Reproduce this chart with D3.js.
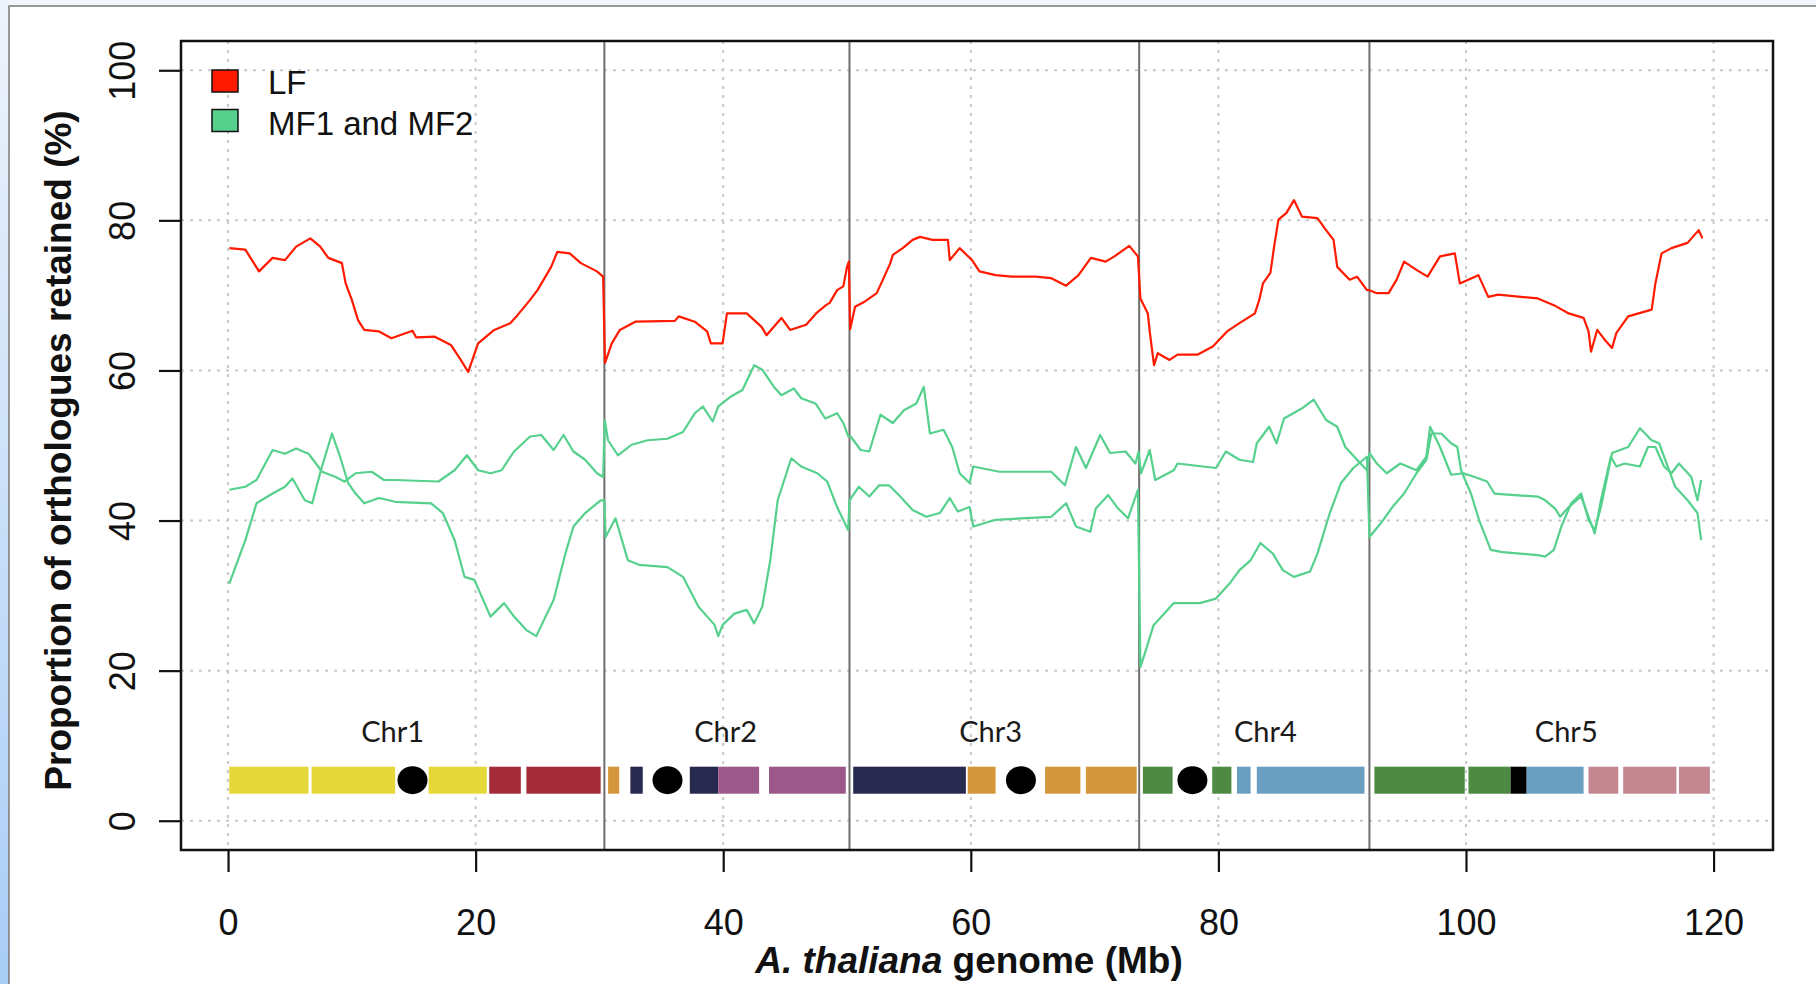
<!DOCTYPE html>
<html>
<head>
<meta charset="utf-8">
<script src="https://cdn.jsdelivr.net/npm/d3@7"></script>
<style>
  html, body { margin: 0; padding: 0; background: #fff; }
  svg { display: block; }
</style>
</head>
<body>
<svg id="chart" width="1816" height="984"></svg>
<script>
// ---- data (Mb along the concatenated A. thaliana genome, % retained) ----
const xTicks = [0, 20, 40, 60, 80, 100, 120];
const yTicks = [0, 20, 40, 60, 80, 100];

const chrBounds = [30.4, 50.2, 73.6, 92.2];
const chrNames = ['Chr1', 'Chr2', 'Chr3', 'Chr4', 'Chr5'];
const chrLabelPos = [13.3, 40.2, 61.6, 83.8, 108.1];

const legendNames = ['LF', 'MF1 and MF2'];

// LF (red)
const lf = [
  [0.1,76.3],[1.4,76.1],[2.5,73.2],[3.6,75.0],[4.6,74.7],[5.5,76.5],[6.65,77.6],[7.45,76.5],[8.1,75.0],[9.2,74.3],
  [9.5,71.6],[10.0,69.4],[10.5,66.7],[11.0,65.4],[12.2,65.2],[13.2,64.3],[14.9,65.3],[15.2,64.4],[16.7,64.5],[18.0,63.4],
  [18.8,61.4],[19.4,59.8],[20.2,63.6],[21.5,65.4],[22.8,66.3],[23.4,67.4],[24.4,69.4],[25.0,70.7],[26.1,73.8],[26.6,75.8],
  [27.6,75.6],[28.5,74.3],[29.8,73.2],[30.3,72.5],
  [30.45,61.0],[31.0,63.6],[31.65,65.4],[32.9,66.5],[36.1,66.6],[36.4,67.2],[37.7,66.5],[38.7,65.2],[39.0,63.6],[39.95,63.6],
  [40.3,67.6],[41.9,67.6],[43.1,65.8],[43.5,64.7],[44.7,67.0],[45.4,65.4],[46.7,66.1],[47.5,67.6],[48.3,68.7],[48.6,69.0],
  [49.2,70.7],[49.7,71.2],[50.0,73.8],[50.15,74.5],
  [50.25,65.5],[50.65,68.5],[51.45,69.2],[52.4,70.3],[52.9,72.1],[53.5,74.3],[53.7,75.4],[54.5,76.3],[55.3,77.4],[55.9,77.8],
  [56.9,77.4],[58.15,77.4],[58.3,74.7],[59.1,76.3],[60.1,74.7],[60.7,73.2],[62.0,72.7],[63.3,72.5],[65.2,72.5],[66.5,72.3],
  [67.7,71.3],[68.7,72.7],[69.7,75.0],[70.9,74.5],[71.6,75.2],[72.8,76.6],[73.5,75.2],
  [73.7,69.6],[74.3,67.6],[74.45,65.2],[74.8,60.7],[75.1,62.3],[76.05,61.4],[76.7,62.1],[78.3,62.1],[79.55,63.2],[80.7,65.2],
  [81.7,66.3],[82.95,67.6],[83.3,69.4],[83.6,71.6],[84.2,73.0],[84.5,76.5],[84.85,80.1],[85.5,81.0],[86.1,82.7],[86.75,80.5],
  [88.0,80.3],[88.7,78.7],[89.3,77.4],[89.6,73.8],[90.6,72.1],[91.2,72.5],[92.0,70.7],
  [92.2,70.7],[92.8,70.3],[93.75,70.3],[94.4,72.1],[95.0,74.5],[96.0,73.4],[96.9,72.5],[97.9,75.2],[99.1,75.6],[99.5,71.6],
  [101.0,72.7],[101.8,69.8],[102.6,70.1],[105.8,69.6],[107.1,68.7],[108.3,67.6],[109.5,67.0],[109.9,65.2],[110.1,62.5],[110.6,65.4],
  [111.2,64.1],[111.8,63.0],[112.15,65.0],[113.1,67.2],[115.0,68.1],[115.3,71.6],[115.8,75.6],[116.6,76.3],[117.9,77.0],[118.8,78.7],
  [119.1,77.6]
];

// MF1 / MF2 (green), two traces
const mfA = [
  [0.1,44.1],[1.4,44.5],[2.3,45.4],[3.6,49.4],[4.6,48.9],[5.5,49.6],[6.5,48.9],[7.1,47.6],[7.6,46.5],[8.7,45.8],
  [9.4,45.2],[10.3,46.3],[11.6,46.5],[12.6,45.4],[13.5,45.4],[17.0,45.2],[18.3,46.7],[19.3,48.7],[20.2,46.7],[21.2,46.3],
  [22.1,46.7],[23.1,49.2],[24.4,51.2],[25.3,51.4],[26.3,49.4],[27.1,51.4],[27.9,49.2],[28.85,48.1],[29.8,46.3],[30.3,45.8],
  [30.43,53.4],[30.69,50.7],[31.49,48.7],[32.6,50.1],[33.9,50.7],[35.5,50.9],[36.75,51.8],[37.7,54.3],[38.35,55.2],[39.15,53.2],
  [39.6,55.2],[40.6,56.5],[41.55,57.4],[42.5,60.7],[43.15,60.1],[44.1,57.8],[44.7,56.7],[45.7,57.6],[46.3,56.3],[47.45,55.6],
  [48.25,53.6],[49.2,54.3],[49.7,53.0],[50.1,51.2],
  [50.3,51.2],[51.1,49.4],[51.8,49.2],[52.7,54.1],[53.7,53.0],[54.6,54.7],[55.6,55.6],[56.2,57.8],[56.7,51.6],[57.8,52.1],
  [58.5,49.8],[59.1,46.3],[59.9,45.0],[60.2,47.2],[62.3,46.5],[66.5,46.5],[67.6,44.7],[68.5,49.8],[69.3,47.0],[70.45,51.4],
  [71.25,49.0],[72.5,49.2],[73.3,47.6],[73.55,49.2],
  [73.75,46.3],[74.45,49.4],[74.9,45.4],[76.4,46.7],[76.7,47.6],[79.8,47.0],[80.6,49.2],[81.7,48.1],[82.8,47.8],[83.1,50.3],
  [84.1,52.5],[84.7,50.3],[85.3,53.6],[86.8,55.0],[87.7,56.1],[88.7,53.4],[89.6,52.5],[90.25,49.8],[91.2,48.1],[92.0,46.7],
  [92.2,49.0],[92.8,47.6],[93.6,46.3],[94.7,47.6],[96.0,46.7],[96.8,48.5],[97.1,52.5],[97.9,49.8],[98.8,46.1],[99.8,46.3],
  [100.7,45.8],[101.7,45.2],[102.3,43.6],[103.9,43.4],[105.8,43.2],[106.4,42.7],[107.2,41.6],[107.6,40.5],[108.3,41.8],[109.3,43.2],
  [109.9,40.5],[110.4,38.3],[110.9,42.7],[111.7,48.5],[112.15,47.2],[112.8,47.6],[114.05,47.2],[114.7,49.8],[115.3,49.8],[116.0,47.2],
  [116.6,46.3],[117.2,47.6],[118.2,45.8],[118.7,42.7],[119.0,45.4]
];

const mfB = [
  [0.1,31.6],[1.4,37.4],[2.3,42.3],[3.6,43.6],[4.6,44.5],[5.2,45.6],[6.2,42.7],[6.8,42.3],[7.5,46.7],[8.4,51.6],
  [9.05,48.5],[9.7,45.0],[10.3,43.6],[11.0,42.3],[12.2,43.0],[13.5,42.5],[16.4,42.3],[17.35,41.0],[18.3,37.4],[19.1,32.5],
  [19.9,32.1],[21.2,27.2],[22.3,29.0],[23.1,27.2],[24.1,25.4],[24.9,24.6],[25.65,27.2],[26.3,29.4],[27.25,35.6],[27.9,39.2],
  [28.85,41.0],[30.1,42.7],
  [30.4,42.7],[30.5,37.8],[31.3,40.3],[32.3,34.7],[33.2,34.1],[35.5,33.8],[36.75,32.5],[38.0,28.5],[39.3,26.1],[39.6,24.6],
  [39.95,26.1],[40.9,27.6],[41.9,28.1],[42.5,26.3],[43.15,28.5],[43.8,34.7],[44.4,42.7],[45.5,48.3],[46.3,47.2],[47.6,46.3],
  [48.4,45.2],[49.2,41.8],[50.1,38.7],
  [50.2,42.7],[50.95,44.5],[51.8,43.2],[52.6,44.7],[53.4,44.7],[54.3,43.2],[55.3,41.4],[56.4,40.5],[57.5,41.0],[58.3,43.0],
  [58.95,41.2],[59.9,41.8],[60.2,39.2],[62.0,40.1],[66.5,40.5],[67.7,42.3],[68.5,39.2],[69.65,38.5],[70.1,41.6],[71.1,43.4],
  [71.9,41.6],[72.7,40.3],[73.5,44.1],
  [73.7,20.5],[74.1,22.5],[74.75,26.0],[76.4,29.0],[78.5,29.0],[79.8,29.6],[80.9,31.6],[81.7,33.4],[82.6,34.7],[83.4,37.0],
  [84.4,35.6],[85.2,33.4],[86.1,32.5],[87.4,33.2],[88.0,35.6],[89.0,41.0],[89.9,45.0],[90.9,47.0],[92.0,48.5],
  [92.2,37.8],[93.1,39.6],[94.06,41.8],[95.0,43.6],[96.0,46.3],[96.8,48.1],[97.2,51.6],[98.0,51.6],[98.8,50.3],[99.3,49.8],
  [99.6,46.7],[100.4,43.6],[101.05,40.1],[102.0,36.1],[102.95,35.8],[105.8,35.4],[106.4,35.2],[107.1,36.1],[107.7,39.2],[108.5,42.3],
  [109.3,43.6],[109.9,40.1],[110.4,38.7],[110.9,41.8],[111.8,49.0],[113.1,49.8],[114.05,52.3],[115.0,50.7],[115.6,50.3],[116.3,47.2],
  [116.9,44.5],[117.9,42.7],[118.7,41.0],[119.0,37.4]
];

// synteny blocks along the chromosome bar: [start Mb, end Mb, block colour]
const blocks = [
  [0.1, 6.5, '#e5d93a'], [6.75, 13.5, '#e5d93a'], [16.2, 20.9, '#e5d93a'],
  [21.1, 23.65, '#a52a3a'], [24.1, 30.1, '#a52a3a'],
  [30.7, 31.6, '#d4963a'], [32.5, 33.5, '#27294f'], [37.3, 39.6, '#27294f'],
  [39.6, 42.9, '#9b5889'], [43.7, 49.9, '#9b5889'],
  [50.5, 59.6, '#27294f'], [59.75, 62.0, '#d4963a'], [66.0, 68.85, '#d4963a'], [69.3, 73.4, '#d4963a'],
  [73.9, 76.3, '#4e8a44'], [79.5, 81.05, '#4e8a44'], [81.5, 82.6, '#6b9fc2'], [83.1, 91.8, '#6b9fc2'],
  [92.6, 99.9, '#4e8a44'], [100.2, 103.6, '#4e8a44'], [103.6, 104.9, '#000000'], [104.9, 109.5, '#6b9fc2'],
  [109.9, 112.3, '#c48690'], [112.7, 117.0, '#c48690'], [117.2, 119.7, '#c48690']
];
const centromeres = [14.9, 35.5, 64.05, 77.9];

// ---- layout ----
const W = 1816, H = 984;
const plot = { left: 181, right: 1773, top: 41, bottom: 850 };
const svg = d3.select('#chart');

const x = d3.scaleLinear().domain([-3.8, 124.8]).range([plot.left, plot.right]);
const y = d3.scaleLinear().domain([-3.9, 103.9]).range([plot.bottom, plot.top]);

// page frame (left blue strip + thin grey border)
const defs = svg.append('defs');
const grad = defs.append('linearGradient').attr('id', 'strip')
  .attr('x1', 0).attr('y1', 0).attr('x2', 0).attr('y2', 1);
grad.append('stop').attr('offset', '0%').attr('stop-color', '#eef3fb');
grad.append('stop').attr('offset', '100%').attr('stop-color', '#a9cdf6');
svg.append('rect').attr('x', 0).attr('y', 0).attr('width', W).attr('height', 6).attr('fill', '#f2f5fa');
svg.append('rect').attr('x', 0).attr('y', 0).attr('width', 9).attr('height', H).attr('fill', 'url(#strip)');
svg.append('path').attr('d', `M9,${H}V6H${W}`).attr('fill', 'none').attr('stroke', '#7a7a7a').attr('stroke-width', 1.5);

// grid
const grid = svg.append('g').attr('stroke', '#c9c9c9').attr('stroke-width', 2).attr('stroke-dasharray', '3,6');
grid.selectAll('.gx').data(xTicks).join('line')
  .attr('x1', d => x(d)).attr('x2', d => x(d)).attr('y1', plot.top).attr('y2', plot.bottom);
grid.selectAll('.gy').data(yTicks).join('line')
  .attr('y1', d => y(d)).attr('y2', d => y(d)).attr('x1', plot.left).attr('x2', plot.right);

// chromosome boundaries
svg.append('g').selectAll('line').data(chrBounds).join('line')
  .attr('x1', d => x(d)).attr('x2', d => x(d))
  .attr('y1', plot.top).attr('y2', plot.bottom)
  .attr('stroke', '#6e6e6e').attr('stroke-width', 2);

// chromosome bar
const barTop = 7.2, barBot = 3.6, barMid = 5.4;
svg.append('g').selectAll('rect').data(blocks).join('rect')
  .attr('x', d => x(d[0])).attr('width', d => x(d[1]) - x(d[0]))
  .attr('y', y(barTop)).attr('height', y(barBot) - y(barTop))
  .attr('fill', d => d[2]);
svg.append('g').selectAll('ellipse').data(centromeres).join('ellipse')
  .attr('cx', d => x(d)).attr('cy', y(barMid)).attr('rx', 15).attr('ry', 14)
  .attr('fill', '#000');

svg.append('g').selectAll('text').data(chrNames).join('text')
  .attr('x', (d, i) => x(chrLabelPos[i])).attr('y', y(10.5))
  .attr('text-anchor', 'middle')
  .attr('font-family', 'Lato, "Open Sans", sans-serif').attr('font-size', 29)
  .attr('fill', '#1a1a1a').text(d => d);

// lines
const line = d3.line().x(d => x(d[0])).y(d => y(d[1]));
[mfB, mfA].forEach(s => {
  svg.append('path').datum(s).attr('d', line)
    .attr('fill', 'none').attr('stroke', '#55d08d').attr('stroke-width', 2.2)
    .attr('stroke-linejoin', 'round');
});
svg.append('path').datum(lf).attr('d', line)
  .attr('fill', 'none').attr('stroke', '#ff1a00').attr('stroke-width', 2.2)
  .attr('stroke-linejoin', 'round');

// axes
const font = '"Liberation Sans", Arial, sans-serif';
const yAxis = svg.append('g').attr('transform', `translate(${plot.left},0)`)
  .call(d3.axisLeft(y).tickValues(yTicks).tickSize(22).tickSizeOuter(0));
yAxis.select('.domain').remove();
yAxis.selectAll('.tick line').attr('stroke', '#111').attr('stroke-width', 2.2);
yAxis.selectAll('.tick text')
  .attr('x', null).attr('dy', null)
  .attr('transform', 'translate(-46,0) rotate(-90)')
  .attr('text-anchor', 'middle')
  .attr('font-family', font).attr('font-size', 36).attr('fill', '#111');

const xAxis = svg.append('g').attr('transform', `translate(0,${plot.bottom})`)
  .call(d3.axisBottom(x).tickValues(xTicks).tickSize(22).tickSizeOuter(0));
xAxis.select('.domain').remove();
xAxis.selectAll('.tick line').attr('stroke', '#111').attr('stroke-width', 2.2);
xAxis.selectAll('.tick text')
  .attr('y', 85).attr('dy', null)
  .attr('font-family', font).attr('font-size', 36).attr('fill', '#111');

// plot box
svg.append('rect')
  .attr('x', plot.left).attr('y', plot.top)
  .attr('width', plot.right - plot.left).attr('height', plot.bottom - plot.top)
  .attr('fill', 'none').attr('stroke', '#111').attr('stroke-width', 2.5);

// axis titles
svg.append('text')
  .attr('transform', `translate(71,${(110 + 791) / 2}) rotate(-90)`)
  .attr('text-anchor', 'middle')
  .attr('font-family', font).attr('font-weight', 'bold').attr('font-size', 37).attr('fill', '#111')
  .text('Proportion of orthologues retained (%)');

const xt = svg.append('text')
  .attr('x', 969).attr('y', 973)
  .attr('text-anchor', 'middle')
  .attr('font-family', font).attr('font-weight', 'bold').attr('font-size', 37).attr('fill', '#111');
xt.append('tspan').attr('font-style', 'italic').text('A. thaliana');
xt.append('tspan').text(' genome (Mb)');

// legend
const legendColors = ['#ff1a00', '#55d08d'];
const lg = svg.append('g').attr('transform', `translate(${plot.left + 31},${plot.top + 29})`);
lg.selectAll('rect').data(legendNames).join('rect')
  .attr('x', 0).attr('y', (d, i) => i * 39.5)
  .attr('width', 26).attr('height', 22)
  .attr('fill', (d, i) => legendColors[i]).attr('stroke', '#111').attr('stroke-width', 1.5);
lg.selectAll('text').data(legendNames).join('text')
  .attr('x', 56).attr('y', (d, i) => 24 + i * 41)
  .attr('font-family', font).attr('font-size', 33).attr('fill', '#111')
  .text(d => d);
</script>
</body>
</html>
